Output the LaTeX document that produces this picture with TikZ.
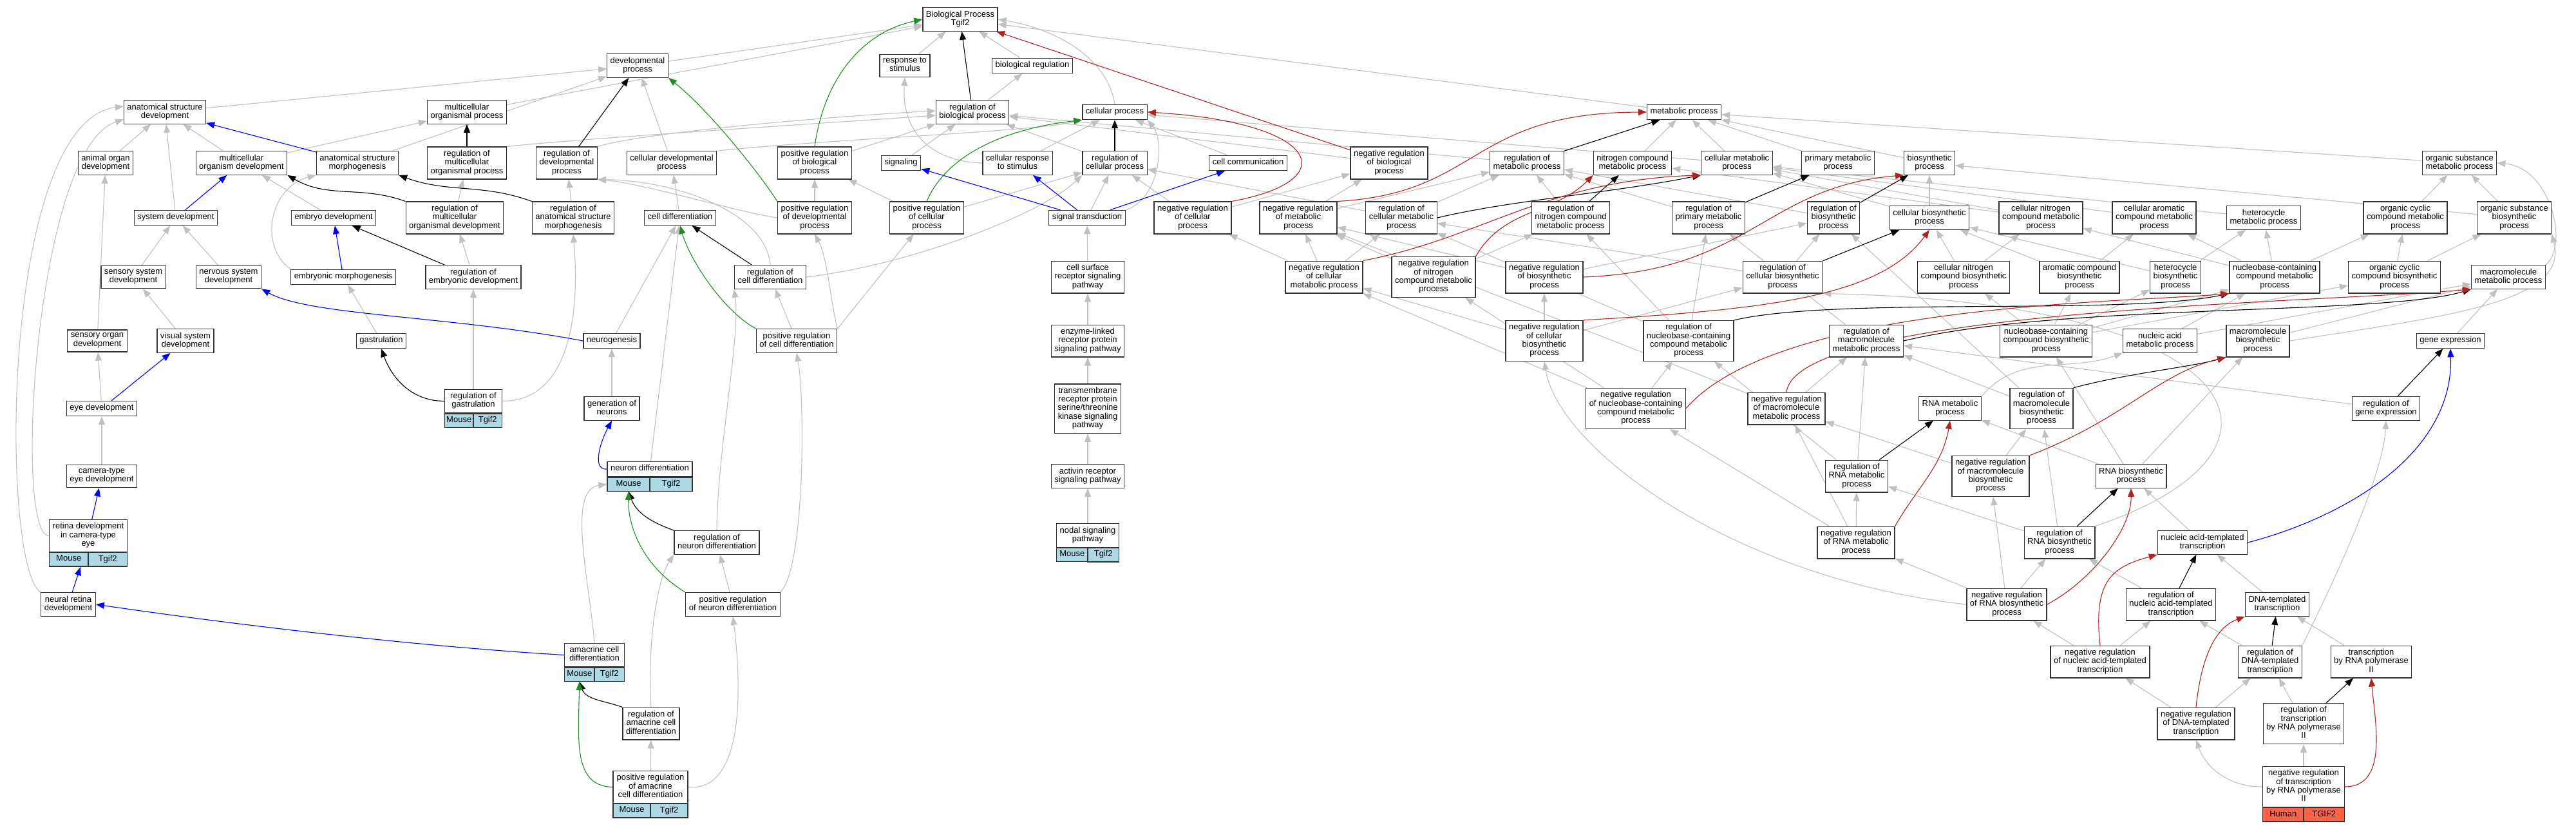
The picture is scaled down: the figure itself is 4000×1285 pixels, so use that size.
\documentclass[tikz,border=0pt]{standalone}
\usepackage{fontspec}
\setmainfont{Liberation Sans}
\usepackage{tikz}
\usetikzlibrary{arrows.meta, backgrounds, fit}
\usepackage{xcolor}

\definecolor{edgegray}{HTML}{C0C0C0}
\definecolor{partblue}{HTML}{0000FF}
\definecolor{posgreen}{HTML}{228B22}
\definecolor{negred}{HTML}{B22222}
\definecolor{bandblue}{HTML}{ADD8E6}
\definecolor{bandred}{HTML}{FF6347}
\definecolor{boxline}{HTML}{333333}

\newcommand{\gofont}{\fontsize{13}{13.3}\selectfont}

\tikzset{
	goterm/.style={draw=boxline, line width=1.3pt, fill=white, align=center, inner xsep=5pt, inner ysep=4.85pt, font=\gofont, execute at begin node=\strut, execute at end node=\strut},
	spband/.style={draw=boxline, line width=1.3pt, fill=bandblue, inner xsep=0pt, inner ysep=4pt, font=\gofont, minimum width=#1, execute at begin node=\strut},
	humanband/.style={spband=#1, fill=bandred},
	golink/.style={line width=1.1pt, -{Triangle[length=13pt,width=10pt]}},
	isalink/.style={golink, draw=edgegray},
	reglink/.style={golink, draw=black},
	partlink/.style={golink, draw=partblue},
	poslink/.style={golink, draw=posgreen},
	neglink/.style={golink, draw=negred}
}

\begin{document}
\begin{tikzpicture}[x=1pt, y=1pt]
		\path[use as bounding box] (0,0) rectangle (4000,-1285);
		% top levels
		\node[goterm] (bp) at (1491,-30) {Biological Process\\Tgif2};
		\node[goterm] (devproc) at (990,-102) {developmental\\process};
		\node[goterm] (respstim) at (1405,-102) {response to\\stimulus};
		\node[goterm] (bioreg) at (1603,-102) {biological regulation};
		\node[goterm] (anatdev) at (256,-174) {anatomical structure\\development};
		\node[goterm] (mcorgproc) at (725,-174) {multicellular\\organismal process};
		\node[goterm] (regbioproc) at (1510,-174) {regulation of\\biological process};
		\node[goterm] (cellproc) at (1731,-174) {cellular process};
		\node[goterm] (metabproc) at (2615,-174) {metabolic process};
		% level 3
		\node[goterm] (animalorgan) at (164,-253) {animal organ\\development};
		\node[goterm] (mcorgdev) at (375,-253) {multicellular\\organism development};
		\node[goterm] (anatmorph) at (555,-253) {anatomical structure\\morphogenesis};
		\node[goterm] (regmcorgproc) at (725,-253) {regulation of\\multicellular\\organismal process};
		\node[goterm] (regdevproc) at (880,-253) {regulation of\\developmental\\process};
		\node[goterm] (celldevproc) at (1043,-253) {cellular developmental\\process};
		\node[goterm] (posregbio) at (1265,-253) {positive regulation\\of biological\\process};
		\node[goterm] (signaling) at (1399,-253) {signaling};
		\node[goterm] (cellrespstim) at (1580,-253) {cellular response\\to stimulus};
		\node[goterm] (regcellproc) at (1731,-253) {regulation of\\cellular process};
		\node[goterm] (cellcomm) at (1938,-253) {cell communication};
		\node[goterm] (negregbio) at (2157,-253) {negative regulation\\of biological\\process};
		\node[goterm] (regmetab) at (2371,-253) {regulation of\\metabolic process};
		\node[goterm] (nitrometab) at (2535,-253) {nitrogen compound\\metabolic process};
		\node[goterm] (cellmetab) at (2697,-253) {cellular metabolic\\process};
		\node[goterm] (primmetab) at (2854,-253) {primary metabolic\\process};
		\node[goterm] (biosynth) at (2996,-253) {biosynthetic\\process};
		\node[goterm] (orgsubmetab) at (3819,-253) {organic substance\\metabolic process};
		% level 4
		\node[goterm] (sysdev) at (273,-338) {system development};
		\node[goterm] (embryodev) at (518,-338) {embryo development};
		\node[goterm] (regmcorgdev) at (706,-338) {regulation of\\multicellular\\organismal development};
		\node[goterm] (reganatmorph) at (890,-338) {regulation of\\anatomical structure\\morphogenesis};
		\node[goterm] (celldiff) at (1056,-338) {cell differentiation};
		\node[goterm] (posregdev) at (1265,-338) {positive regulation\\of developmental\\process};
		\node[goterm] (posregcellproc) at (1439,-338) {positive regulation\\of cellular\\process};
		\node[goterm] (sigtrans) at (1688,-338) {signal transduction};
		\node[goterm] (negregcellproc) at (1852,-338) {negative regulation\\of cellular\\process};
		\node[goterm] (negregmetab) at (2016,-338) {negative regulation\\of metabolic\\process};
		\node[goterm] (regcellmetab) at (2176,-338) {regulation of\\cellular metabolic\\process};
		\node[goterm] (regnitro) at (2439,-338) {regulation of\\nitrogen compound\\metabolic process};
		\node[goterm] (regprim) at (2653,-338) {regulation of\\primary metabolic\\process};
		\node[goterm] (regbiosynth) at (2847,-338) {regulation of\\biosynthetic\\process};
		\node[goterm] (cellbiosynth) at (2996,-338) {cellular biosynthetic\\process};
		\node[goterm] (cellnitrometab) at (3169,-338) {cellular nitrogen\\compound metabolic\\process};
		\node[goterm] (cellarommetab) at (3345,-338) {cellular aromatic\\compound metabolic\\process};
		\node[goterm] (heterometab) at (3515,-338) {heterocycle\\metabolic process};
		\node[goterm] (orgcycmetab) at (3735,-338) {organic cyclic\\compound metabolic\\process};
		\node[goterm] (orgsubbiosynth) at (3904,-338) {organic substance\\biosynthetic\\process};
		% level 5
		\node[goterm] (sensorysys) at (207,-430) {sensory system\\development};
		\node[goterm] (nervoussys) at (355,-430) {nervous system\\development};
		\node[goterm] (embryomorph) at (533,-430) {embryonic morphogenesis};
		\node[goterm] (regembryodev) at (735,-430) {regulation of\\embryonic development};
		\node[goterm] (regcelldiff) at (1196,-430) {regulation of\\cell differentiation};
		\node[goterm] (cellsurface) at (1689,-430) {cell surface\\receptor signaling\\pathway};
		\node[goterm] (negregcellmetab) at (2056,-430) {negative regulation\\of cellular\\metabolic process};
		\node[goterm] (negregnitro) at (2226,-430) {negative regulation\\of nitrogen\\compound metabolic\\process};
		\node[goterm] (negregbiosynth) at (2398,-430) {negative regulation\\of biosynthetic\\process};
		\node[goterm] (regcellbiosynth) at (2768,-430) {regulation of\\cellular biosynthetic\\process};
		\node[goterm] (cellnitrobiosynth) at (3049,-430) {cellular nitrogen\\compound biosynthetic\\process};
		\node[goterm] (arombiosynth) at (3229,-430) {aromatic compound\\biosynthetic\\process};
		\node[goterm] (herebiosynth) at (3378,-430) {heterocycle\\biosynthetic\\process};
		\node[goterm] (nucleometab) at (3532,-430) {nucleobase-containing\\compound metabolic\\process};
		\node[goterm] (orgcycbiosynth) at (3718,-430) {organic cyclic\\compound biosynthetic\\process};
		\node[goterm] (macrometab) at (3895,-430) {macromolecule\\metabolic process};
		% level 6
		\node[goterm] (sensoryorgan) at (151,-529) {sensory organ\\development};
		\node[goterm] (visualsys) at (288,-529) {visual system\\development};
		\node[goterm] (gastrulation) at (592,-529) {gastrulation};
		\node[goterm] (neurogenesis) at (950,-529) {neurogenesis};
		\node[goterm] (posregcelldiff) at (1237,-529) {positive regulation\\of cell differentiation};
		\node[goterm] (enzymelinked) at (1689,-529) {enzyme-linked\\receptor protein\\signaling pathway};
		\node[goterm] (negregcellbiosynth) at (2398,-529) {negative regulation\\of cellular\\biosynthetic\\process};
		\node[goterm] (regnucleo) at (2622,-529) {regulation of\\nucleobase-containing\\compound metabolic\\process};
		\node[goterm] (regmacrometab) at (2898,-529) {regulation of\\macromolecule\\metabolic process};
		\node[goterm] (nucleobiosynth) at (3177,-529) {nucleobase-containing\\compound biosynthetic\\process};
		\node[goterm] (nucleicmetab) at (3354,-529) {nucleic acid\\metabolic process};
		\node[goterm] (macrobiosynth) at (3506,-529) {macromolecule\\biosynthetic\\process};
		\node[goterm] (geneexpr) at (3805,-529) {gene expression};
		% level 7
		\node[goterm] (eyedev) at (158,-634) {eye development};
		\node[goterm, minimum width=89pt] (reggastr) at (735,-622.5) {regulation of\\gastrulation};
		\node[spband=44.5pt, anchor=north west] (reggastr-sp) at (reggastr.south west) {Mouse};
		\node[spband=44.5pt, anchor=north east] (reggastr-gn) at (reggastr.south east) {Tgif2};
		\node[goterm] (genneurons) at (950,-634) {generation of\\neurons};
		\node[goterm] (transmembrane) at (1689,-634) {transmembrane\\receptor protein\\serine/threonine\\kinase signaling\\pathway};
		\node[goterm] (negregnucleo) at (2540,-634) {negative regulation\\of nucleobase-containing\\compound metabolic\\process};
		\node[goterm] (negregmacrometab) at (2774,-634) {negative regulation\\of macromolecule\\metabolic process};
		\node[goterm] (rnametab) at (3028,-634) {RNA metabolic\\process};
		\node[goterm] (regmacrobiosynth) at (3170,-634) {regulation of\\macromolecule\\biosynthetic\\process};
		\node[goterm] (reggeneexpr) at (3705,-634) {regulation of\\gene expression};
		% level 8
		\node[goterm] (cameraeye) at (158,-739) {camera-type\\eye development};
		\node[goterm, minimum width=132pt] (neurondiff) at (1009,-728) {neuron differentiation};
		\node[spband=66pt, anchor=north west] (neurondiff-sp) at (neurondiff.south west) {Mouse};
		\node[spband=66pt, anchor=north east] (neurondiff-gn) at (neurondiff.south east) {Tgif2};
		\node[goterm] (activin) at (1689,-739) {activin receptor\\signaling pathway};
		\node[goterm] (regrnametab) at (2883,-739) {regulation of\\RNA metabolic\\process};
		\node[goterm] (negregmacrobiosynth) at (3091,-739) {negative regulation\\of macromolecule\\biosynthetic\\process};
		\node[goterm] (rnabiosynth) at (3309,-739) {RNA biosynthetic\\process};
		% level 9
		\node[goterm, minimum width=121pt] (retina) at (137,-831.5) {retina development\\in camera-type\\eye};
		\node[spband=60.5pt, anchor=north west] (retina-sp) at (retina.south west) {Mouse};
		\node[spband=60.5pt, anchor=north east] (retina-gn) at (retina.south east) {Tgif2};
		\node[goterm] (regneurondiff) at (1113,-842) {regulation of\\neuron differentiation};
		\node[goterm, minimum width=97pt] (nodal) at (1689,-831) {nodal signaling\\pathway};
		\node[spband=48.5pt, anchor=north west] (nodal-sp) at (nodal.south west) {Mouse};
		\node[spband=48.5pt, anchor=north east] (nodal-gn) at (nodal.south east) {Tgif2};
		\node[goterm] (negregrnametab) at (2882,-842) {negative regulation\\of RNA metabolic\\process};
		\node[goterm] (regrnabiosynth) at (3198,-842) {regulation of\\RNA biosynthetic\\process};
		\node[goterm] (nucltempl) at (3420,-842) {nucleic acid-templated\\transcription};
		% level 10
		\node[goterm] (neuralretina) at (106,-938) {neural retina\\development};
		\node[goterm] (posregneurondiff) at (1138,-938) {positive regulation\\of neuron differentiation};
		\node[goterm] (negregrnabiosynth) at (3116,-938) {negative regulation\\of RNA biosynthetic\\process};
		\node[goterm] (regnucltempl) at (3371,-938) {regulation of\\nucleic acid-templated\\transcription};
		\node[goterm] (dnatempl) at (3536,-938) {DNA-templated\\transcription};
		% level 11
		\node[goterm, minimum width=93pt] (amacrine) at (923,-1016.5) {amacrine cell\\differentiation};
		\node[spband=46.5pt, anchor=north west] (amacrine-sp) at (amacrine.south west) {Mouse};
		\node[spband=46.5pt, anchor=north east] (amacrine-gn) at (amacrine.south east) {Tgif2};
		\node[goterm] (negregnucltempl) at (3261,-1027) {negative regulation\\of nucleic acid-templated\\transcription};
		\node[goterm] (regdnatempl) at (3525,-1027) {regulation of\\DNA-templated\\transcription};
		\node[goterm] (pol2) at (3682,-1027) {transcription\\by RNA polymerase\\II};
		% level 12
		\node[goterm] (regamacrine) at (1011,-1123) {regulation of\\amacrine cell\\differentiation};
		\node[goterm] (negregdnatempl) at (3410,-1123) {negative regulation\\of DNA-templated\\transcription};
		\node[goterm] (regpol2) at (3577,-1123) {regulation of\\transcription\\by RNA polymerase\\II};
		% level 13
		\node[goterm, minimum width=116pt] (posregamacrine) at (1010,-1221.5) {positive regulation\\of amacrine\\cell differentiation};
		\node[spband=58pt, anchor=north west] (posregamacrine-sp) at (posregamacrine.south west) {Mouse};
		\node[spband=58pt, anchor=north east] (posregamacrine-gn) at (posregamacrine.south east) {Tgif2};
		\node[goterm, minimum width=127pt] (negregpol2) at (3577,-1221) {negative regulation\\of transcription\\by RNA polymerase\\II};
		\node[humanband=63.5pt, anchor=north west] (negregpol2-sp) at (negregpol2.south west) {Human};
		\node[humanband=63.5pt, anchor=north east] (negregpol2-gn) at (negregpol2.south east) {TGIF2};
		\node[fit=(retina)(retina-sp)(retina-gn), inner sep=0pt] (retina-all) {};

		\begin{scope}[on background layer]
		% is_a
		\draw[isalink] (animalorgan) -- (anatdev);
		\draw[isalink] (mcorgdev) -- (anatdev);
		\draw[isalink] (sysdev) -- (anatdev);
		\draw[isalink] (mcorgdev) -- (mcorgproc);
		\draw[isalink] (embryodev) -- (mcorgdev);
		\draw[isalink] (sensorysys) -- (sysdev);
		\draw[isalink] (nervoussys) -- (sysdev);
		\draw[isalink] (sensoryorgan) -- (animalorgan);
		\draw[isalink] (visualsys) -- (sensorysys);
		\draw[isalink] (gastrulation) -- (embryomorph);
		\draw[isalink] (eyedev) -- (sensoryorgan);
		\draw[isalink] (cameraeye) -- (eyedev);
		\draw[isalink] (anatdev) -- (devproc);
		\draw[isalink] (anatmorph) -- (devproc);
		\draw[isalink] (embryomorph.north west) .. controls (400,-380) and (420,-290) .. (anatmorph.south west);
		\draw[isalink] (retina.west) .. controls (20,-830) and (55,-230) .. (anatdev.190);
		\draw[isalink] (neuralretina.north west) .. controls (0,-880) and (0,-190) .. (anatdev.172);
		\draw[isalink] (reggastr) -- (regembryodev);
		\draw[isalink] (reggastr.east) to[out=0, in=-85] (reganatmorph.south);
		\draw[isalink] (regembryodev) -- (regmcorgdev);
		\draw[isalink] (regmcorgdev) -- (regmcorgproc);
		\draw[isalink] (reganatmorph) -- (regdevproc);
		\draw[isalink] (mcorgproc) -- (bp);
		\draw[isalink] (devproc) -- (bp);
		\draw[isalink] (regmcorgproc.north east) .. controls (900,-215) and (1300,-190) .. (regbioproc.185);
		\draw[isalink] (regdevproc.north east) .. controls (1000,-205) and (1300,-180) .. (regbioproc.178);
		\draw[isalink] (celldevproc) -- (devproc);
		\draw[isalink] (celldiff) -- (celldevproc);
		\draw[isalink] (celldevproc.north east) .. controls (1300,-215) and (1600,-205) .. (cellproc.south west);
		\draw[isalink] (posregdev.west) .. controls (1150,-330) and (1000,-285) .. (regdevproc.south east);
		\draw[isalink] (posregdev) -- (posregbio);
		\draw[isalink] (posregbio) -- (regbioproc);
		\draw[isalink] (regcelldiff.north) .. controls (1190,-330) and (1050,-280) .. (regdevproc.south east);
		\draw[isalink] (regcelldiff.east) .. controls (1420,-410) and (1620,-330) .. (regcellproc.south west);
		\draw[isalink] (posregcelldiff) -- (regcelldiff);
		\draw[isalink] (posregcelldiff.north east) .. controls (1290,-470) and (1285,-400) .. (posregdev.south);
		\draw[isalink] (posregcelldiff.north east) -- (posregcellproc);
		\draw[isalink] (neurogenesis) -- (celldiff);
		\draw[isalink] (genneurons) -- (neurogenesis);
		\draw[isalink] (neurondiff) -- (celldiff);
		\draw[isalink] (regneurondiff.north) .. controls (1114,-700) and (1150,-520) .. (regcelldiff.south west);
		\draw[isalink] (posregneurondiff) -- (regneurondiff);
		\draw[isalink] (posregneurondiff.north east) .. controls (1250,-880) and (1250,-620) .. (posregcelldiff.south);
		\draw[isalink] (amacrine.north) .. controls (915,-900) and (880,-760) .. (neurondiff-sp.west);
		\draw[isalink] (regamacrine.north) .. controls (1005,-1000) and (1020,-900) .. (regneurondiff.south west);
		\draw[isalink] (posregamacrine) -- (regamacrine);
		\draw[isalink] (posregamacrine.east) .. controls (1160,-1230) and (1150,-1050) .. (posregneurondiff.south);
		\draw[isalink] (respstim) -- (bp);
		\draw[isalink] (bioreg) -- (bp);
		\draw[isalink] (regbioproc) -- (bioreg);
		\draw[isalink] (cellproc.north) .. controls (1720,-90) and (1640,-45) .. (bp.east);
		\draw[isalink] (signaling) -- (regbioproc);
		\draw[isalink] (cellrespstim.west) .. controls (1440,-250) and (1400,-200) .. (respstim.south);
		\draw[isalink] (cellrespstim) -- (cellproc);
		\draw[isalink] (regcellproc) -- (regbioproc);
		\draw[isalink] (cellcomm) -- (cellproc);
		\draw[isalink] (posregcellproc) -- (regcellproc);
		\draw[isalink] (posregcellproc) -- (posregbio);
		\draw[isalink] (sigtrans) -- (regcellproc);
		\draw[isalink] (sigtrans.north east) .. controls (1800,-310) and (1810,-220) .. (cellproc.south east);
		\draw[isalink] (negregcellproc) -- (regcellproc);
		\draw[isalink] (negregcellproc) -- (negregbio);
		\draw[isalink] (cellsurface) -- (sigtrans);
		\draw[isalink] (enzymelinked) -- (cellsurface);
		\draw[isalink] (transmembrane) -- (enzymelinked);
		\draw[isalink] (activin) -- (transmembrane);
		\draw[isalink] (nodal) -- (activin);
		\draw[isalink] (negregbio) -- (regbioproc);
		\draw[isalink] (metabproc) -- (bp);
		\draw[isalink] (regmetab) -- (regbioproc);
		\draw[isalink] (negregmetab) -- (regmetab);
		\draw[isalink] (negregmetab) -- (negregbio);
		\draw[isalink] (regcellmetab) -- (regmetab);
		\draw[isalink] (regcellmetab) -- (regcellproc);
		\draw[isalink] (nitrometab) -- (metabproc);
		\draw[isalink] (regnitro) -- (regmetab);
		\draw[isalink] (negregnitro) -- (regnitro);
		\draw[isalink] (negregnitro) -- (negregmetab);
		\draw[isalink] (negregcellmetab) -- (regcellmetab);
		\draw[isalink] (negregcellmetab) -- (negregmetab);
		\draw[isalink] (negregcellmetab) -- (negregcellproc);
		\draw[isalink] (negregbiosynth) -- (regbiosynth);
		\draw[isalink] (negregbiosynth) -- (negregmetab);
		\draw[isalink] (negregcellbiosynth) -- (negregbiosynth);
		\draw[isalink] (negregcellbiosynth) -- (negregcellmetab);
		\draw[isalink] (negregcellbiosynth) -- (regcellbiosynth);
		\draw[isalink] (regnucleo) -- (regcellmetab);
		\draw[isalink] (regnucleo) -- (regprim);
		\draw[isalink] (regnucleo) -- (regnitro);
		\draw[isalink] (negregnucleo) -- (regnucleo);
		\draw[isalink] (negregnucleo) -- (negregcellmetab);
		\draw[isalink] (negregnucleo) -- (negregnitro);
		\draw[isalink] (cellmetab) -- (metabproc);
		\draw[isalink] (cellmetab) -- (cellproc);
		\draw[isalink] (primmetab) -- (metabproc);
		\draw[isalink] (biosynth) -- (metabproc);
		\draw[isalink] (regprim) -- (regmetab);
		\draw[isalink] (regbiosynth) -- (regmetab);
		\draw[isalink] (cellbiosynth) -- (biosynth);
		\draw[isalink] (cellbiosynth) -- (cellmetab);
		\draw[isalink] (cellnitrometab) -- (nitrometab);
		\draw[isalink] (cellnitrometab) -- (cellmetab);
		\draw[isalink] (cellarommetab) -- (cellmetab);
		\draw[isalink] (heterometab) -- (cellmetab);
		\draw[isalink] (orgsubmetab) -- (metabproc);
		\draw[isalink] (orgcycmetab) -- (orgsubmetab);
		\draw[isalink] (orgsubbiosynth) -- (orgsubmetab);
		\draw[isalink] (orgsubbiosynth) -- (biosynth);
		\draw[isalink] (regcellbiosynth) -- (regbiosynth);
		\draw[isalink] (regcellbiosynth) -- (regcellmetab);
		\draw[isalink] (cellnitrobiosynth) -- (cellbiosynth);
		\draw[isalink] (cellnitrobiosynth) -- (cellnitrometab);
		\draw[isalink] (arombiosynth) -- (cellbiosynth);
		\draw[isalink] (arombiosynth) -- (cellarommetab);
		\draw[isalink] (herebiosynth) -- (heterometab);
		\draw[isalink] (herebiosynth) -- (cellbiosynth);
		\draw[isalink] (nucleometab) -- (heterometab);
		\draw[isalink] (nucleometab) -- (cellarommetab);
		\draw[isalink] (nucleometab) -- (orgcycmetab);
		\draw[isalink] (nucleometab) -- (cellnitrometab);
		\draw[isalink] (orgcycbiosynth) -- (orgcycmetab);
		\draw[isalink] (orgcycbiosynth) -- (orgsubbiosynth);
		\draw[isalink] (macrometab.north east) .. controls (3990,-380) and (3960,-260) .. (orgsubmetab.east);
		\draw[isalink] (regmacrometab) -- (regprim);
		\draw[isalink] (nucleobiosynth) -- (nucleometab);
		\draw[isalink] (nucleobiosynth) -- (herebiosynth);
		\draw[isalink] (nucleobiosynth) -- (arombiosynth);
		\draw[isalink] (nucleobiosynth) -- (cellnitrobiosynth);
		\draw[isalink] (nucleobiosynth) -- (orgcycbiosynth);
		\draw[isalink] (nucleicmetab) -- (nucleometab);
		\draw[isalink] (nucleicmetab) -- (macrometab);
		\draw[isalink] (macrobiosynth) -- (macrometab);
		\draw[isalink] (macrobiosynth.east) .. controls (3800,-490) and (3990,-470) .. (orgsubbiosynth.south east);
		\draw[isalink] (geneexpr) -- (macrometab);
		\draw[isalink] (reggeneexpr) -- (regmacrometab);
		\draw[isalink] (negregmacrometab) -- (regmacrometab);
		\draw[isalink] (negregmacrometab) -- (negregmetab);
		\draw[isalink] (rnametab.north east) to[out=50, in=200] (nucleicmetab.south west);
		\draw[isalink] (regmacrobiosynth) -- (regmacrometab);
		\draw[isalink] (regmacrobiosynth) -- (regbiosynth);
		\draw[isalink] (rnabiosynth) -- (rnametab);
		\draw[isalink] (rnabiosynth) -- (macrobiosynth);
		\draw[isalink] (rnabiosynth) -- (nucleobiosynth);
		\draw[isalink] (regrnametab) -- (regnucleo);
		\draw[isalink] (regrnametab) -- (regmacrometab);
		\draw[isalink] (negregmacrobiosynth) -- (regmacrobiosynth);
		\draw[isalink] (negregmacrobiosynth) -- (negregmacrometab);
		\draw[isalink] (negregrnametab) -- (regrnametab);
		\draw[isalink] (negregrnametab) -- (negregnucleo);
		\draw[isalink] (negregrnametab) -- (negregmacrometab);
		\draw[isalink] (regrnabiosynth) -- (regrnametab);
		\draw[isalink] (regrnabiosynth) -- (regmacrobiosynth);
		\draw[isalink] (regrnabiosynth.north east) .. controls (3600,-700) and (3500,-470) .. (regcellbiosynth.south east);
		\draw[isalink] (nucltempl) -- (rnabiosynth);
		\draw[isalink] (negregrnabiosynth) -- (negregrnametab);
		\draw[isalink] (negregrnabiosynth) -- (regrnabiosynth);
		\draw[isalink] (negregrnabiosynth) -- (negregmacrobiosynth);
		\draw[isalink] (negregrnabiosynth.west) .. controls (2700,-900) and (2420,-700) .. (negregcellbiosynth.south);
		\draw[isalink] (regnucltempl) -- (regrnabiosynth);
		\draw[isalink] (dnatempl) -- (nucltempl);
		\draw[isalink] (negregnucltempl) -- (regnucltempl);
		\draw[isalink] (negregnucltempl) -- (negregrnabiosynth);
		\draw[isalink] (regdnatempl) -- (regnucltempl);
		\draw[isalink] (regdnatempl.north east) .. controls (3600,-950) and (3700,-750) .. (reggeneexpr.south);
		\draw[isalink] (pol2) -- (dnatempl);
		\draw[isalink] (negregdnatempl) -- (negregnucltempl);
		\draw[isalink] (negregdnatempl) -- (regdnatempl);
		\draw[isalink] (regpol2) -- (regdnatempl);
		\draw[isalink] (negregpol2) -- (regpol2);
		\draw[isalink] (negregpol2.west) to[out=180, in=-70] (negregdnatempl.south);
		% regulates
		\draw[reglink] (regbioproc) -- (bp);
		\draw[reglink] (regmcorgproc) -- (mcorgproc);
		\draw[reglink] (regdevproc) -- (devproc);
		\draw[reglink] (regmcorgdev.north west) to[out=160, in=-30] (mcorgdev.south east);
		\draw[reglink] (reganatmorph.north west) to[out=160, in=-20] (anatmorph.south east);
		\draw[reglink] (regembryodev) -- (embryodev);
		\draw[reglink] (reggastr.west) to[out=180, in=-70] (gastrulation.south);
		\draw[reglink] (regcelldiff) -- (celldiff);
		\draw[reglink] (regneurondiff.north west) to[out=160, in=-70] (neurondiff-sp.south);
		\draw[reglink] (regamacrine.north west) to[out=160, in=-70] (amacrine-sp.south);
		\draw[reglink] (regcellproc) -- (cellproc);
		\draw[reglink] (regmetab) -- (metabproc);
		\draw[reglink] (regnitro) -- (nitrometab);
		\draw[reglink] (regcellmetab.east) .. controls (2350,-310) and (2500,-300) .. (cellmetab.south west);
		\draw[reglink] (regprim) -- (primmetab);
		\draw[reglink] (regbiosynth) -- (biosynth);
		\draw[reglink] (regcellbiosynth) -- (cellbiosynth);
		\draw[reglink] (regnucleo.north east) .. controls (2850,-460) and (3300,-490) .. (nucleometab.south west);
		\draw[reglink] (regmacrometab.east) .. controls (3200,-470) and (3700,-490) .. (macrometab.south west);
		\draw[reglink] (reggeneexpr) -- (geneexpr);
		\draw[reglink] (regmacrobiosynth.north east) .. controls (3300,-580) and (3400,-570) .. (macrobiosynth.south west);
		\draw[reglink] (regrnametab) -- (rnametab);
		\draw[reglink] (regrnabiosynth) -- (rnabiosynth);
		\draw[reglink] (regnucltempl) -- (nucltempl);
		\draw[reglink] (regdnatempl) -- (dnatempl);
		\draw[reglink] (regpol2) -- (pol2);
		% part_of
		\draw[partlink] (anatmorph) -- (anatdev);
		\draw[partlink] (sysdev) -- (mcorgdev);
		\draw[partlink] (embryomorph) -- (embryodev);
		\draw[partlink] (neurogenesis.west) .. controls (700,-490) and (480,-490) .. (nervoussys.south east);
		\draw[partlink] (eyedev) -- (visualsys);
		\draw[partlink] (retina) -- (cameraeye);
		\draw[partlink] (neuralretina) -- (retina-all);
		\draw[partlink] (amacrine.west) .. controls (600,-1000) and (300,-960) .. (neuralretina.east);
		\draw[partlink] (neurondiff.west) .. controls (920,-730) and (930,-690) .. (genneurons.south);
		\draw[partlink] (sigtrans) -- (signaling);
		\draw[partlink] (sigtrans) -- (cellrespstim);
		\draw[partlink] (sigtrans) -- (cellcomm);
		\draw[partlink] (nucltempl.east) .. controls (3650,-800) and (3810,-700) .. (geneexpr.south);
		% positively regulates
		\draw[poslink] (posregdev.north west) .. controls (1180,-270) and (1100,-170) .. (devproc.south east);
		\draw[poslink] (posregbio.north) .. controls (1280,-120) and (1340,-50) .. (bp.west);
		\draw[poslink] (posregcelldiff.north west) .. controls (1120,-480) and (1070,-400) .. (celldiff.south);
		\draw[poslink] (posregneurondiff.north west) .. controls (1000,-880) and (975,-820) .. (neurondiff-sp.south);
		\draw[poslink] (posregamacrine.west) .. controls (890,-1220) and (898,-1150) .. (amacrine-sp.south);
		\draw[poslink] (posregcellproc.north) .. controls (1470,-240) and (1560,-200) .. (cellproc.south west);
		% negatively regulates
		\draw[neglink] (negregbio) -- (bp);
		\draw[neglink] (negregcellproc.north east) .. controls (2090,-280) and (2050,-190) .. (cellproc.east);
		\draw[neglink] (negregmetab.north east) .. controls (2300,-300) and (2280,-175) .. (metabproc.west);
		\draw[neglink] (negregnitro.north east) to[out=60, in=-135] (nitrometab.south west);
		\draw[neglink] (negregcellmetab.north east) .. controls (2300,-370) and (2400,-280) .. (cellmetab.south west);
		\draw[neglink] (negregbiosynth.east) .. controls (2720,-420) and (2740,-290) .. (biosynth.south west);
		\draw[neglink] (negregcellbiosynth.north east) .. controls (2750,-480) and (2920,-460) .. (cellbiosynth.south);
		\draw[neglink] (negregnucleo.east) .. controls (2760,-470) and (3300,-470) .. (nucleometab.south west);
		\draw[neglink] (negregmacrometab.north) .. controls (2790,-480) and (3600,-470) .. (macrometab.south west);
		\draw[neglink] (negregmacrobiosynth.north east) .. controls (3300,-650) and (3350,-580) .. (macrobiosynth.south west);
		\draw[neglink] (negregrnametab.north east) to[out=60, in=-100] (rnametab.south);
		\draw[neglink] (negregrnabiosynth.east) .. controls (3250,-900) and (3310,-820) .. (rnabiosynth.south);
		\draw[neglink] (negregnucltempl.north) .. controls (3250,-900) and (3280,-880) .. (nucltempl.south west);
		\draw[neglink] (negregdnatempl.north) .. controls (3420,-1000) and (3450,-970) .. (dnatempl.south west);
		\draw[neglink] (negregpol2.east) to[out=0, in=-85] (pol2.south);
		\end{scope}
\end{tikzpicture}
\end{document}
